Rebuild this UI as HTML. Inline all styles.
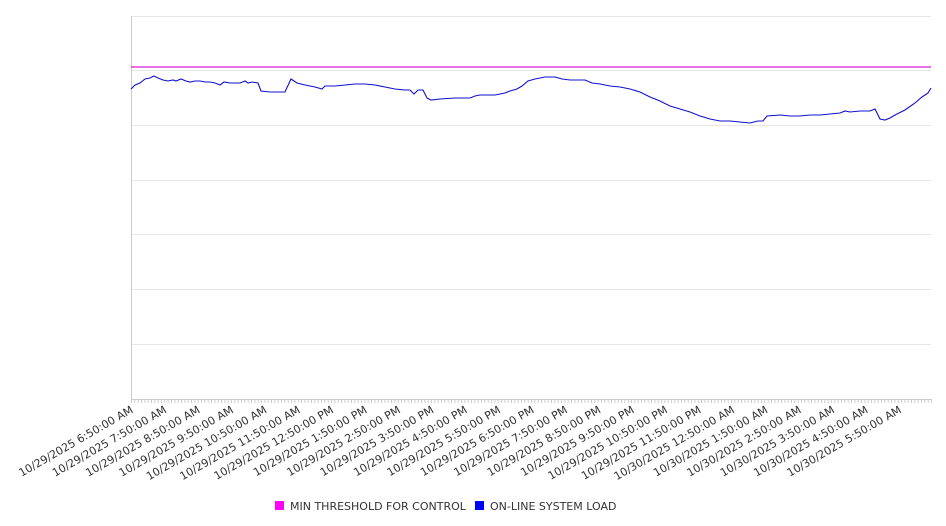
<!DOCTYPE html>
<html><head><meta charset="utf-8"><style>
html,body{margin:0;padding:0;background:#fff;}
svg{display:block;font-family:"DejaVu Sans","Liberation Sans",sans-serif;}
</style></head><body>
<svg width="946" height="526" viewBox="0 0 946 526" xmlns="http://www.w3.org/2000/svg">
<defs>
<pattern id="tk" x="131" y="399" width="3.3333" height="5" patternUnits="userSpaceOnUse">
<rect x="0" y="0" width="1" height="5" fill="#ccc"/>
</pattern>
</defs>
<g stroke="#e6e6e6" stroke-width="1">
<line x1="131" y1="16.5" x2="931" y2="16.5"/>
<line x1="131" y1="70.5" x2="931" y2="70.5"/>
<line x1="131" y1="125.5" x2="931" y2="125.5"/>
<line x1="131" y1="180.5" x2="931" y2="180.5"/>
<line x1="131" y1="234.5" x2="931" y2="234.5"/>
<line x1="131" y1="289.5" x2="931" y2="289.5"/>
<line x1="131" y1="344.5" x2="931" y2="344.5"/>
</g>
<line x1="131.5" y1="16" x2="131.5" y2="399" stroke="#ccc"/>
<line x1="131" y1="399.5" x2="931" y2="399.5" stroke="#ccc"/>
<rect x="131" y="399" width="801" height="4" fill="url(#tk)"/>
<line x1="131" y1="67" x2="931" y2="67" stroke="#d81ad8" stroke-width="1.2"/>
<polyline fill="none" stroke="#1010cc" stroke-width="1.1" points="131,89 135,85 140,83 145,79 150,78 154,76 158,78 163,80 168,81 173,80 176,81 181,79 186,81 190,82 195,81 200,81 205,82 210,82 215,83 220,85 224,82 230,83 240,83 245,81 248,83 252,82 258,83 261,91 270,92 285,92 291,79 297,83 305,85 315,87 322,89 325,86 330,86 335,86 345,85 355,84 365,84 375,85 385,87 395,89 405,90 410,90 414,94 418,90 423,90 427,98 431,100 440,99 455,98 470,98 475,96 480,95 495,95 500,94 505,93 510,91 517,89 522,86 528,81 535,79 545,77 555,77 562,79 570,80 585,80 592,83 600,84 610,86 620,87 630,89 640,92 650,97 660,101 670,106 680,109 690,112 700,116 710,119 720,121 730,121 740,122 750,123 758,121 763,121 767,116 780,115 790,116 800,116 810,115 820,115 830,114 840,113 845,111 850,112 860,111 870,111 875,109 880,119 885,120 890,118 895,115 905,110 915,103 922,97 928,93 931,88"/>
<g font-size="11" fill="#333" text-anchor="end">
<text transform="translate(134,412) rotate(-30)">10/29/2025 6:50:00 AM</text>
<text transform="translate(167.4,412) rotate(-30)">10/29/2025 7:50:00 AM</text>
<text transform="translate(200.8,412) rotate(-30)">10/29/2025 8:50:00 AM</text>
<text transform="translate(234.2,412) rotate(-30)">10/29/2025 9:50:00 AM</text>
<text transform="translate(267.6,412) rotate(-30)">10/29/2025 10:50:00 AM</text>
<text transform="translate(301,412) rotate(-30)">10/29/2025 11:50:00 AM</text>
<text transform="translate(334.4,412) rotate(-30)">10/29/2025 12:50:00 PM</text>
<text transform="translate(367.8,412) rotate(-30)">10/29/2025 1:50:00 PM</text>
<text transform="translate(401.2,412) rotate(-30)">10/29/2025 2:50:00 PM</text>
<text transform="translate(434.6,412) rotate(-30)">10/29/2025 3:50:00 PM</text>
<text transform="translate(468,412) rotate(-30)">10/29/2025 4:50:00 PM</text>
<text transform="translate(501.4,412) rotate(-30)">10/29/2025 5:50:00 PM</text>
<text transform="translate(534.8,412) rotate(-30)">10/29/2025 6:50:00 PM</text>
<text transform="translate(568.2,412) rotate(-30)">10/29/2025 7:50:00 PM</text>
<text transform="translate(601.6,412) rotate(-30)">10/29/2025 8:50:00 PM</text>
<text transform="translate(635,412) rotate(-30)">10/29/2025 9:50:00 PM</text>
<text transform="translate(668.4,412) rotate(-30)">10/29/2025 10:50:00 PM</text>
<text transform="translate(701.8,412) rotate(-30)">10/29/2025 11:50:00 PM</text>
<text transform="translate(735.2,412) rotate(-30)">10/30/2025 12:50:00 AM</text>
<text transform="translate(768.6,412) rotate(-30)">10/30/2025 1:50:00 AM</text>
<text transform="translate(802,412) rotate(-30)">10/30/2025 2:50:00 AM</text>
<text transform="translate(835.4,412) rotate(-30)">10/30/2025 3:50:00 AM</text>
<text transform="translate(868.8,412) rotate(-30)">10/30/2025 4:50:00 AM</text>
<text transform="translate(902.2,412) rotate(-30)">10/30/2025 5:50:00 AM</text>
</g>
<rect x="275" y="501" width="9" height="9" fill="#ff00ff"/>
<text x="290" y="510" font-size="11" fill="#333">MIN THRESHOLD FOR CONTROL</text>
<rect x="475" y="501" width="9" height="9" fill="#0000ff"/>
<text x="490" y="510" font-size="11" fill="#333">ON-LINE SYSTEM LOAD</text>
</svg>
</body></html>
